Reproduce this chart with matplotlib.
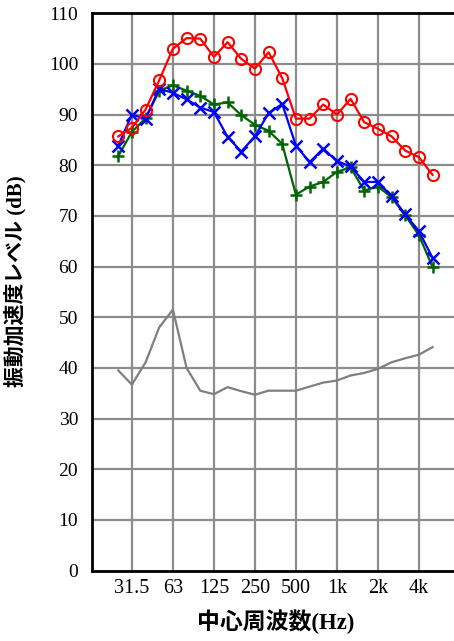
import matplotlib
matplotlib.use("Agg")
import matplotlib.pyplot as plt
import numpy as np

# 1/3 octave band centre frequencies (25 Hz .. 5 kHz)
bands = ["25", "31.5", "40", "50", "63", "80", "100", "125", "160", "200", "250",
         "315", "400", "500", "630", "800", "1k", "1.25k", "1.6k", "2k", "2.5k",
         "3.15k", "4k", "5k"]

red_series = [85.7, 87.4, 91.0, 96.8, 103.0, 105.1, 105.0, 101.4, 104.3, 101.0, 99.1,
              102.3, 97.2, 89.2, 89.2, 92.0, 90.0, 93.1, 88.5, 87.2, 85.7, 82.9, 81.6, 78.1]
blue_series = [83.9, 90.0, 89.2, 95.1, 94.3, 93.0, 91.4, 90.5, 85.6, 82.7, 85.7,
               90.3, 92.1, 83.9, 80.6, 83.3, 80.8, 79.8, 76.7, 76.7, 73.9, 70.3, 67.0, 61.7]
green_series = [81.8, 86.6, 89.3, 94.7, 95.8, 94.7, 93.7, 92.0, 92.4, 89.9, 88.0,
                86.8, 84.2, 74.2, 75.8, 76.7, 78.7, 79.6, 75.0, 75.8, 73.7, 70.1, 66.2, 59.9]
gray_series = [39.5, 36.7, 41.1, 48.0, 51.5, 40.0, 35.5, 34.8, 36.2, 35.4, 34.7,
               35.5, 35.5, 35.5, 36.3, 37.1, 37.5, 38.5, 39.0, 39.8, 41.1, 41.9, 42.6, 44.1]

grid_bands = ["31.5", "63", "125", "250", "500", "1k", "2k", "4k"]
tick_labels = ["31.5", "63", "125", "250", "500", "1k", "2k", "4k"]

y_ticks = list(range(0, 111, 10))

x = np.arange(len(bands))

fig = plt.figure(figsize=(4.54, 6.41), dpi=100)
ax = fig.add_axes([92/454, 1 - 570.5/641, 1 - 92/454 + 0.01, (570.5 - 13.3)/641])

grid_idx = [bands.index(b) for b in grid_bands]
for gi in grid_idx:
    ax.axvline(gi, color="#8c8c8c", lw=1.6, zorder=0)
for yv in y_ticks[1:-1]:
    ax.axhline(yv, color="#8c8c8c", lw=1.6, zorder=0)

ax.plot(x, gray_series, color="#7f7f7f", lw=1.6, zorder=2)
ax.plot(x, green_series, color="#006400", lw=1.6, marker="+", ms=9, mew=1.8, zorder=3)
ax.plot(x, blue_series, color="#0000ff", lw=1.6, marker="x", ms=8, mew=1.8, zorder=4)
ax.plot(x, red_series, color="#ff0000", lw=1.6, marker="o", ms=8, mfc="none", mew=1.5, zorder=5)

ax.set_xlim(-1.92, 24.9)
ax.set_ylim(0, 110)
ax.set_yticks(y_ticks)
ax.set_yticklabels([str(v) for v in y_ticks], family="Liberation Serif", fontsize=14)
ax.set_xticks(grid_idx)
ax.set_xticklabels(tick_labels, family="Liberation Serif", fontsize=14.5)
ax.tick_params(axis="x", length=0, pad=6)
ax.tick_params(axis="y", length=0, pad=10)

for s in ["left", "bottom", "top"]:
    ax.spines[s].set_linewidth(2)
    ax.spines[s].set_color("black")
ax.spines["right"].set_visible(False)

ax.set_ylabel("振動加速度レベル (dB)", family=["Liberation Serif", "Noto Sans CJK JP"],
              fontsize=15, fontweight="bold")
ax.yaxis.set_label_coords(-0.18, 0.52)
ax.set_xlabel("中心周波数(Hz)", family=["Liberation Serif", "Noto Sans CJK JP"],
              fontsize=16.5, fontweight="bold", labelpad=8)

fig.savefig("out.png", dpi=100)
